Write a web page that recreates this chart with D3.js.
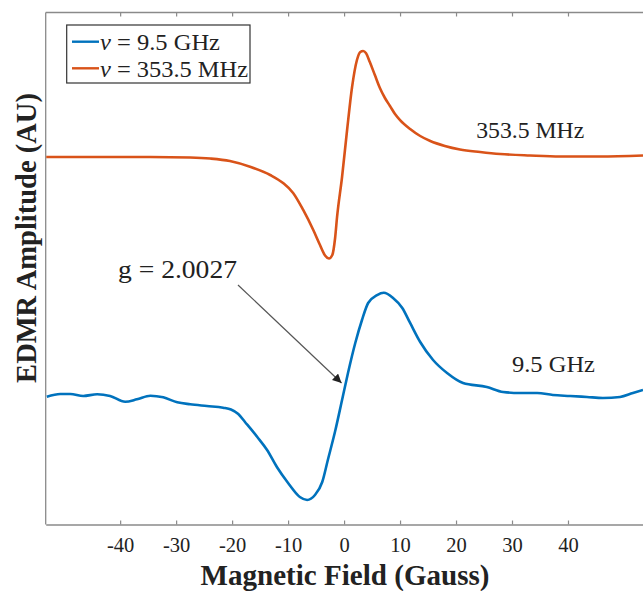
<!DOCTYPE html>
<html>
<head>
<meta charset="utf-8">
<script src="https://cdn.jsdelivr.net/npm/d3@7"></script>
<style>
  html, body { margin: 0; padding: 0; background: #fff; }
  svg { display: block; }
  text { font-family: "Liberation Serif", "Times New Roman", serif; fill: #222; }
</style>
</head>
<body>
<svg id="chart" width="643" height="591"></svg>
<script>
// ---- data (field in Gauss, amplitude in arbitrary units) ----
const xTicks = [-40, -30, -20, -10, 0, 10, 20, 30, 40];

const mhzField = [-53.2, -43.6, -34.6, -27.5, -23.9, -20.4, -16.8, -13.2, -10.9, -9.1, -7.3, -5.5, -4.3, -3.4, -2.7, -2.1, -1.6, -1.25, -0.36, 0.54, 1.43, 2.3, 2.9, 3.4, 3.9, 4.6, 5.5, 6.4, 7.3, 8.2, 9.1, 10.0, 11.8, 13.6, 15.4, 18.0, 20.7, 24.3, 27.9, 33.2, 38.6, 45.7, 53.4];
const mhzAmp   = [71.78, 71.78, 71.78, 71.68, 71.48, 71.0, 69.88, 68.26, 66.70, 64.75, 61.43, 57.52, 54.59, 52.54, 51.95, 52.64, 55.96, 60.06, 67.87, 77.05, 85.45, 90.72, 92.29, 92.48, 92.09, 90.33, 87.79, 85.25, 83.30, 81.74, 80.18, 79.0, 77.25, 75.88, 74.90, 73.93, 73.24, 72.75, 72.36, 72.07, 71.88, 71.88, 72.07];

const ghzField = [-53.1, -50.7, -48.9, -46.6, -44.1, -41.8, -39.1, -37.0, -34.6, -32.3, -29.8, -27.5, -24.5, -21.6, -20.2, -18.9, -17.7, -15.5, -13.75, -12.0, -10.0, -7.9, -6.6, -5.2, -3.9, -2.9, -1.6, -0.36, 0.7, 2.0, 3.2, 4.3, 5.9, 7.1, 8.75, 10.4, 11.8, 13.6, 15.9, 18.4, 21.25, 25.5, 28.4, 31.4, 34.5, 37.3, 40.4, 43.4, 46.25, 49.3, 51.6, 53.4];
const ghzAmp   = [24.96, 25.49, 25.49, 25.10, 25.43, 25.10, 23.98, 24.45, 25.16, 24.84, 23.87, 23.48, 23.14, 22.81, 22.46, 21.58, 20.02, 17.09, 14.55, 11.23, 8.11, 5.37, 4.79, 5.76, 8.30, 12.60, 18.20, 24.32, 29.59, 35.45, 39.94, 43.26, 44.82, 45.27, 44.24, 42.29, 39.36, 35.64, 32.13, 29.59, 27.64, 26.86, 25.88, 25.68, 25.68, 25.29, 25.10, 24.90, 24.71, 24.90, 25.68, 26.27];

const seriesNames = ["9.5 GHz", "353.5 MHz"];
const seriesColors = ["#0072BD", "#D95319"];
const curveLabels = ["9.5 GHz", "353.5 MHz"];
const annotationText = "g = 2.0027";

// ---- layout ----
const svg = d3.select("#chart");
const mLeft = 45.7, mRight = 643, mTop = 12.5, mBottom = 524.5;

const x = d3.scaleLinear().domain([-53.3, 53.4]).range([mLeft, mRight]);
const y = d3.scaleLinear().domain([0, 100]).range([mBottom, mTop]);

const axisColor = "#8a8a8a";
const serif = "Liberation Serif";

// frame lines (left, top)
svg.append("line").attr("x1", mLeft).attr("x2", mLeft).attr("y1", mTop).attr("y2", mBottom)
  .attr("stroke", axisColor).attr("stroke-width", 1.3);
svg.append("line").attr("x1", mLeft).attr("x2", mRight).attr("y1", mTop).attr("y2", mTop)
  .attr("stroke", axisColor).attr("stroke-width", 1.3);

// bottom axis
const gx = svg.append("g").attr("transform", `translate(0,${mBottom})`)
  .call(d3.axisBottom(x).tickValues(xTicks).tickSizeInner(-4).tickSizeOuter(0)
    .tickFormat(d => String(d)));
gx.attr("font-family", serif);
gx.select(".domain").attr("stroke", axisColor).attr("stroke-width", 1.3);
gx.selectAll(".tick line").attr("stroke", axisColor).attr("stroke-width", 1.2);
gx.selectAll(".tick text").attr("y", 27.5).attr("dy", 0)
  .attr("font-size", 20.5).attr("font-family", serif).attr("fill", "#222");

// top ticks
const gt = svg.append("g").attr("transform", `translate(0,${mTop})`)
  .call(d3.axisTop(x).tickValues(xTicks).tickSizeInner(-4).tickSizeOuter(0).tickFormat(""));
gt.select(".domain").remove();
gt.selectAll(".tick line").attr("stroke", axisColor).attr("stroke-width", 1.2);

// axis titles
svg.append("text").attr("x", 345).attr("y", 585).attr("text-anchor", "middle")
  .attr("font-family", serif).attr("font-size", 28.5).attr("font-weight", "bold").attr("fill", "#111")
  .attr("textLength", 289).attr("lengthAdjust", "spacingAndGlyphs")
  .text("Magnetic Field (Gauss)");
svg.append("text").attr("transform", "translate(35.5,238) rotate(-90)")
  .attr("text-anchor", "middle").attr("font-family", serif).attr("font-size", 28.5)
  .attr("font-weight", "bold").attr("fill", "#111")
  .text("EDMR Amplitude (AU)");

// curves
const line = d3.line().x(d => x(d[0])).y(d => y(d[1])).curve(d3.curveMonotoneX);
const ghzData = ghzField.map((f, i) => [f, ghzAmp[i]]);
const mhzData = mhzField.map((f, i) => [f, mhzAmp[i]]);

const defs = svg.append("defs");
defs.append("clipPath").attr("id", "clip")
  .append("rect").attr("x", mLeft).attr("y", mTop).attr("width", mRight - mLeft).attr("height", mBottom - mTop);

const plot = svg.append("g").attr("clip-path", "url(#clip)");
plot.append("path").datum(ghzData).attr("d", line).attr("fill", "none")
  .attr("stroke", seriesColors[0]).attr("stroke-width", 2.6).attr("stroke-linejoin", "round");
plot.append("path").datum(mhzData).attr("d", line).attr("fill", "none")
  .attr("stroke", seriesColors[1]).attr("stroke-width", 2.6).attr("stroke-linejoin", "round");

// curve labels
svg.append("text").attr("x", x(23.6)).attr("y", 138).attr("font-family", serif).attr("font-size", 23)
  .attr("textLength", 108).attr("lengthAdjust", "spacingAndGlyphs").text(curveLabels[1]);
svg.append("text").attr("x", x(30.0)).attr("y", 371.5).attr("font-family", serif).attr("font-size", 23)
  .attr("textLength", 83).attr("lengthAdjust", "spacingAndGlyphs").text(curveLabels[0]);

// annotation with arrow
defs.append("marker").attr("id", "arrow").attr("viewBox", "0 0 10 10")
  .attr("refX", 10).attr("refY", 5).attr("markerWidth", 9).attr("markerHeight", 9)
  .attr("markerUnits", "userSpaceOnUse").attr("orient", "auto")
  .append("path").attr("d", "M0,0 L10,5 L0,10 Z").attr("fill", "#222");
svg.append("line").attr("x1", 238).attr("y1", 285).attr("x2", x(-0.45)).attr("y2", 383)
  .attr("stroke", "#555").attr("stroke-width", 1.2).attr("marker-end", "url(#arrow)");
svg.append("text").attr("x", 118).attr("y", 278).attr("font-family", serif).attr("font-size", 24.5)
  .attr("textLength", 119).attr("lengthAdjust", "spacingAndGlyphs").text(annotationText);

// legend
const lg = svg.append("g");
lg.append("rect").attr("x", 66.7).attr("y", 25).attr("width", 183.3).attr("height", 58)
  .attr("fill", "#fff").attr("stroke", "#333").attr("stroke-width", 1.2);
const rows = [41.7, 68.3];
const legendWidths = [120, 148];
seriesNames.forEach((name, i) => {
  lg.append("line").attr("x1", 72).attr("x2", 99).attr("y1", rows[i]).attr("y2", rows[i])
    .attr("stroke", seriesColors[i]).attr("stroke-width", 2.4);
  const t = lg.append("text").attr("x", 100).attr("y", rows[i] + 8.5).attr("font-family", serif)
    .attr("font-size", 22.5).attr("textLength", legendWidths[i]).attr("lengthAdjust", "spacingAndGlyphs");
  t.append("tspan").attr("font-style", "italic").text("ν");
  t.append("tspan").text(" = " + name);
});
</script>
</body>
</html>
